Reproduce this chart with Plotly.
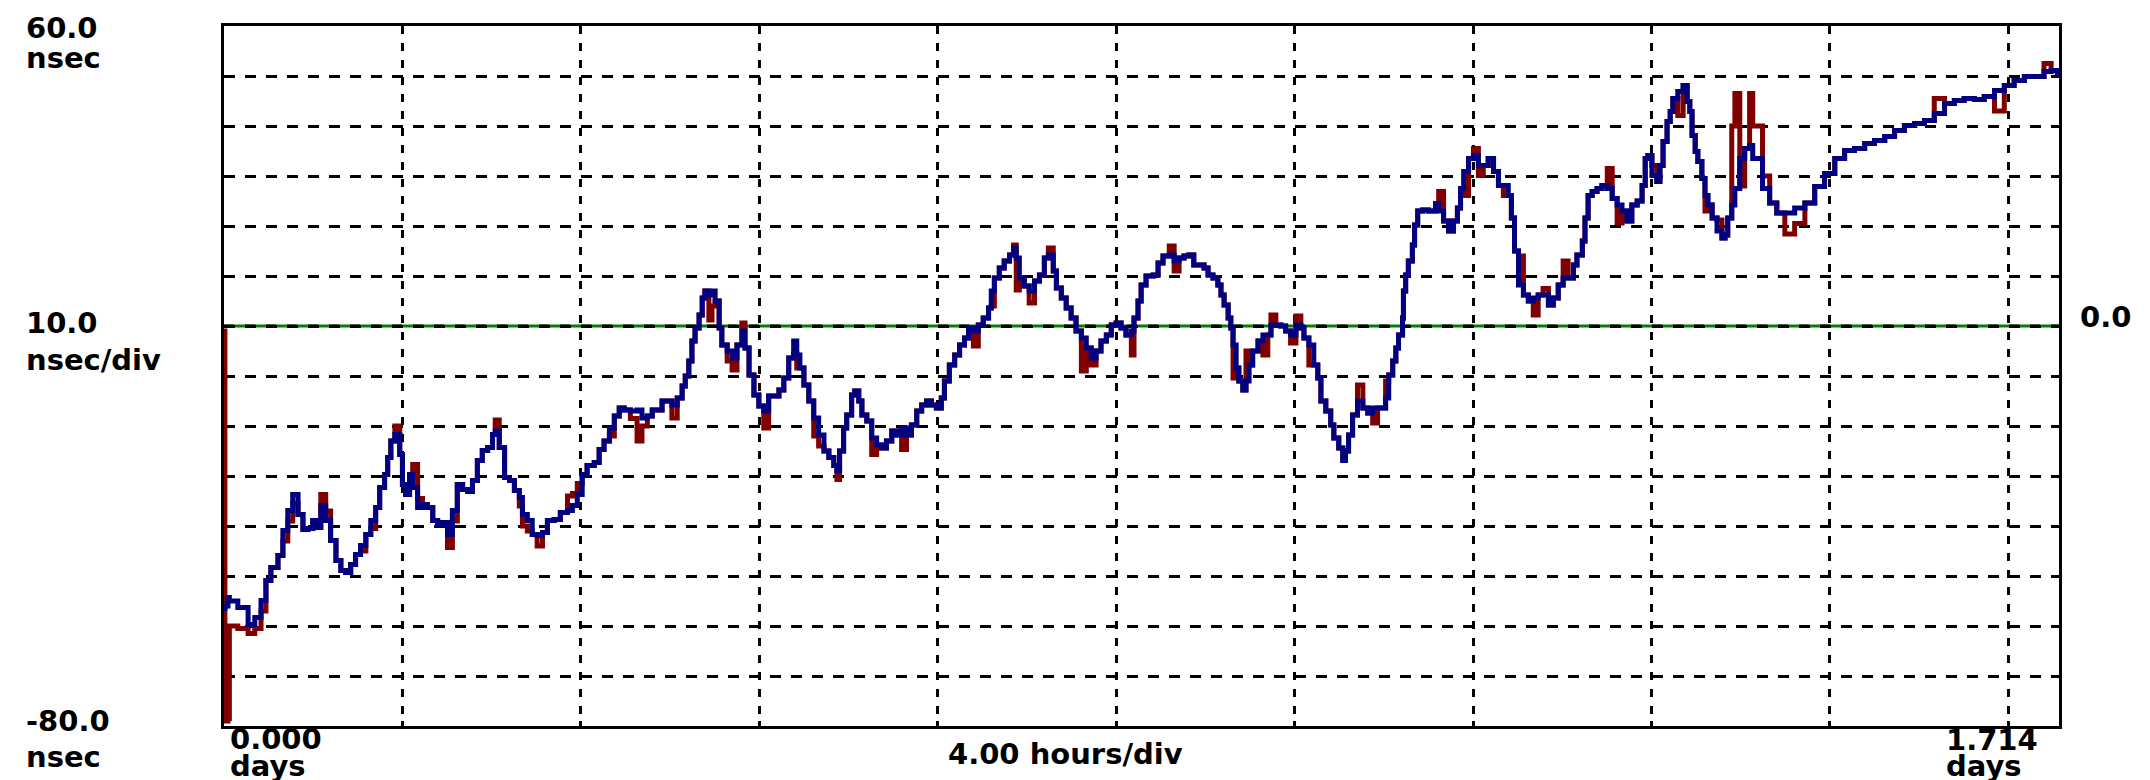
import plotly.graph_objects as go

# ---------------- data (hours since start, nsec) ----------------
hours = [
    0.00, 0.02, 0.09, 0.12, 0.31, 0.54, 0.69, 0.83, 0.94, 1.05,
    1.21, 1.32, 1.43, 1.54, 1.66, 1.77, 1.88, 1.99, 2.10, 2.17,
    2.28, 2.39, 2.51, 2.62, 2.73, 2.84, 2.95, 3.06, 3.18, 3.29,
    3.40, 3.49, 3.60, 3.67, 3.74, 3.83, 3.94, 4.00, 4.07, 4.16,
    4.23, 4.34, 4.45, 4.56, 4.68, 4.79, 4.90, 5.01, 5.12, 5.23,
    5.35, 5.46, 5.57, 5.68, 5.79, 5.91, 6.02, 6.08, 6.17, 6.29,
    6.40, 6.51, 6.62, 6.69, 6.80, 6.91, 7.02, 7.14, 7.25, 7.40,
    7.54, 7.70, 7.81, 7.92, 8.03, 8.14, 8.30, 8.41, 8.52, 8.64,
    8.75, 8.86, 8.97, 9.11, 9.26, 9.37, 9.49, 9.60, 9.71, 9.82,
    9.93, 10.04, 10.16, 10.27, 10.34, 10.42, 10.49, 10.56, 10.65, 10.72,
    10.78, 10.87, 10.94, 11.01, 11.10, 11.16, 11.28, 11.39, 11.50, 11.61,
    11.68, 11.77, 11.88, 11.99, 12.10, 12.21, 12.33, 12.44, 12.55, 12.66,
    12.77, 12.84, 12.91, 13.00, 13.11, 13.22, 13.33, 13.45, 13.56, 13.67,
    13.74, 13.80, 13.89, 13.96, 14.07, 14.14, 14.23, 14.30, 14.41, 14.52,
    14.63, 14.74, 14.85, 14.97, 15.08, 15.19, 15.30, 15.41, 15.53, 15.64,
    15.75, 15.86, 15.97, 16.08, 16.15, 16.26, 16.38, 16.49, 16.60, 16.69,
    16.80, 16.91, 17.02, 17.14, 17.20, 17.27, 17.38, 17.49, 17.61, 17.70,
    17.76, 17.83, 17.94, 18.05, 18.17, 18.28, 18.39, 18.48, 18.59, 18.66,
    18.77, 18.88, 18.99, 19.10, 19.22, 19.33, 19.44, 19.55, 19.66, 19.78,
    19.89, 20.00, 20.11, 20.22, 20.34, 20.40, 20.49, 20.56, 20.67, 20.83,
    20.94, 21.05, 21.19, 21.30, 21.41, 21.52, 21.63, 21.74, 21.86, 21.97,
    22.06, 22.17, 22.28, 22.35, 22.42, 22.51, 22.57, 22.62, 22.69, 22.75,
    22.84, 22.91, 22.98, 23.06, 23.18, 23.29, 23.40, 23.47, 23.58, 23.69,
    23.80, 23.91, 24.03, 24.14, 24.21, 24.32, 24.43, 24.52, 24.59, 24.70,
    24.81, 24.88, 24.99, 25.08, 25.14, 25.21, 25.30, 25.41, 25.53, 25.64,
    25.75, 25.86, 25.97, 26.04, 26.11, 26.20, 26.27, 26.33, 26.42, 26.44,
    26.49, 26.55, 26.64, 26.69, 26.76, 26.87, 27.00, 27.16, 27.23, 27.34,
    27.45, 27.56, 27.65, 27.72, 27.79, 27.90, 28.01, 28.12, 28.23, 28.34,
    28.46, 28.57, 28.68, 28.79, 28.86, 28.93, 29.02, 29.13, 29.24, 29.35,
    29.46, 29.57, 29.69, 29.80, 29.91, 30.02, 30.13, 30.25, 30.33, 30.45,
    30.51, 30.58, 30.67, 30.78, 30.89, 31.01, 31.12, 31.23, 31.34, 31.45,
    31.56, 31.68, 31.79, 31.86, 31.92, 32.01, 32.12, 32.19, 32.26, 32.35,
    32.42, 32.48, 32.59, 32.71, 32.80, 32.86, 32.91, 32.98, 33.04, 33.13,
    33.20, 33.27, 33.36, 33.47, 33.58, 33.65, 33.71, 33.80, 33.87, 33.98,
    34.09, 34.20, 34.27, 34.49, 34.65, 34.81, 34.99, 35.21, 35.44, 35.66,
    35.88, 36.11, 36.33, 36.55, 36.78, 37.00, 37.23, 37.45, 37.67, 37.90,
    38.12, 38.34, 38.57, 38.79, 39.01, 39.24, 39.46, 39.69, 39.91, 40.13,
    40.36, 40.58, 40.80, 40.96, 41.10,
]

blue_nsec = [
    -56.5, -56.0, -54.3, -55.0, -56.3, -59.7, -58.3, -54.9, -50.9, -48.3,
    -45.9, -40.9, -36.9, -33.7, -37.7, -40.7, -40.5, -38.9, -40.3, -35.9,
    -38.9, -42.9, -46.9, -48.9, -49.3, -47.7, -45.7, -43.9, -41.7, -38.9,
    -36.3, -32.3, -29.7, -26.3, -23.0, -21.7, -25.7, -31.7, -33.7, -29.7,
    -32.3, -36.3, -35.7, -36.3, -38.9, -39.7, -39.3, -41.7, -36.9, -31.7,
    -32.7, -33.1, -30.9, -26.9, -24.9, -24.3, -21.7, -21.0, -24.3, -30.3,
    -30.9, -32.9, -34.3, -37.7, -38.9, -41.7, -41.9, -41.3, -38.9, -38.7,
    -37.3, -36.9, -35.9, -33.7, -29.7, -27.9, -27.3, -24.7, -23.0, -20.4,
    -18.0, -16.4, -16.8, -17.0, -16.8, -18.4, -18.0, -16.8, -16.8, -15.0,
    -15.0, -15.8, -14.4, -12.0, -10.0, -7.0, -3.0, -0.4, 2.2, 5.6,
    7.0, 6.2, 7.0, 5.0, -0.4, -3.8, -5.0, -6.4, -3.8, -1.0,
    -4.4, -9.8, -13.8, -16.0, -17.0, -14.0, -14.0, -12.8, -10.4, -6.4,
    -3.0, -5.8, -8.4, -11.8, -15.0, -18.4, -21.8, -25.0, -26.3, -27.9,
    -28.9, -25.0, -20.4, -17.8, -13.8, -13.0, -15.0, -17.8, -19.0, -22.4,
    -23.8, -24.4, -23.0, -21.0, -21.8, -20.4, -21.8, -19.8, -17.0, -15.8,
    -15.0, -15.8, -16.4, -14.4, -11.0, -7.8, -5.8, -3.8, -2.4, -0.4,
    -1.0, 0.2, 1.6, 3.6, 7.0, 9.6, 11.6, 13.0, 14.2, 15.6,
    13.6, 9.6, 8.0, 7.0, 9.0, 10.2, 13.6, 14.2, 11.0, 7.6,
    5.6, 3.6, 1.6, -1.0, -2.4, -4.4, -6.4, -5.0, -3.0, -1.8,
    0.2, 0.6, -0.4, -1.8, -1.0, 1.6, 5.0, 8.2, 10.0, 10.2,
    12.6, 14.0, 14.2, 13.0, 13.6, 14.0, 14.2, 12.2, 12.2, 11.6,
    10.2, 9.6, 8.2, 6.2, 4.2, 1.6, -0.4, -3.8, -8.4, -11.0,
    -12.8, -11.0, -7.8, -5.0, -3.0, -1.8, -1.8, 0.2, 0.2, 0.0,
    -1.0, -1.8, 0.2, -0.4, -2.4, -3.8, -7.8, -10.4, -15.0, -17.0,
    -19.8, -22.4, -24.4, -26.9, -25.0, -21.8, -17.8, -15.0, -16.4, -17.4,
    -16.4, -16.4, -16.4, -14.4, -9.8, -7.0, -4.4, -1.8, 1.6, 7.0,
    10.2, 13.0, 16.2, 20.2, 23.0, 23.2, 23.0, 24.5, 23.0, 21.0,
    19.0, 21.0, 23.6, 27.5, 30.9, 33.5, 34.1, 32.1, 32.1, 33.5,
    30.9, 28.1, 28.1, 26.1, 21.6, 15.0, 8.2, 6.2, 5.0, 5.6,
    6.2, 6.2, 4.2, 5.6, 8.2, 9.6, 9.6, 12.2, 14.2, 17.0,
    21.6, 26.1, 26.9, 27.5, 28.1, 27.5, 25.5, 24.2, 23.0, 21.0,
    24.2, 25.0, 28.1, 33.5, 34.1, 30.1, 28.9, 32.1, 36.9, 40.9,
    42.9, 45.5, 46.9, 48.1, 44.9, 42.9, 38.1, 34.9, 32.9, 29.5,
    26.1, 24.2, 21.6, 19.0, 17.6, 18.2, 21.6, 24.2, 27.5, 33.5,
    35.5, 36.1, 33.5, 27.5, 24.6, 22.6, 22.6, 23.6, 24.6, 27.9,
    30.5, 33.5, 35.1, 35.5, 36.5, 37.1, 37.9, 39.1, 40.1, 40.5,
    41.1, 42.5, 44.5, 45.1, 45.5, 45.3, 45.9, 47.1, 48.1, 49.1,
    49.9, 49.9, 50.9, 51.1, 49.9,
]

red_nsec = [
    -1.0, -79.0, -78.5, -60.0, -60.5, -61.5, -60.5, -57.0, -50.9, -48.3,
    -45.9, -43.0, -39.0, -35.5, -37.7, -40.7, -40.5, -38.9, -40.3, -33.7,
    -37.0, -42.9, -46.9, -48.9, -49.3, -47.7, -45.7, -45.0, -41.7, -40.5,
    -36.3, -32.3, -29.7, -26.3, -23.0, -20.0, -25.7, -31.7, -33.7, -29.7,
    -27.7, -34.5, -35.7, -36.3, -38.9, -39.7, -39.3, -44.3, -39.0, -31.7,
    -32.7, -33.1, -30.9, -26.9, -24.9, -24.3, -21.7, -18.8, -24.3, -30.3,
    -30.9, -32.9, -36.0, -40.0, -41.0, -41.7, -44.0, -41.3, -38.9, -38.7,
    -37.3, -34.0, -33.5, -31.5, -29.7, -27.9, -27.3, -24.7, -23.0, -22.0,
    -18.0, -16.4, -16.8, -18.5, -23.0, -20.0, -18.0, -16.8, -16.8, -15.0,
    -15.0, -18.4, -14.4, -12.0, -10.0, -7.0, -3.0, -0.4, 2.2, 5.6,
    7.0, 1.2, 4.0, 5.0, -0.4, -3.8, -7.0, -8.8, -3.8, 0.6,
    -4.4, -9.8, -13.8, -16.0, -20.4, -14.0, -14.0, -12.8, -10.4, -6.4,
    -5.5, -8.4, -8.4, -11.8, -15.0, -22.0, -24.0, -25.0, -26.3, -27.9,
    -30.7, -25.0, -20.4, -17.8, -13.8, -13.0, -15.0, -17.8, -19.0, -25.7,
    -23.8, -24.4, -23.0, -21.0, -21.8, -24.7, -21.8, -19.8, -17.0, -15.8,
    -15.0, -15.8, -16.4, -14.4, -11.0, -7.8, -5.8, -3.8, -2.4, -0.4,
    -4.0, 0.2, 1.6, 3.6, 4.0, 9.6, 11.6, 13.0, 14.2, 16.2,
    7.2, 9.6, 8.0, 4.6, 9.0, 10.2, 13.6, 15.6, 11.0, 7.6,
    5.6, 3.6, 1.6, -1.0, -9.0, -4.4, -7.8, -5.0, -3.0, -1.8,
    0.2, 0.6, -0.4, -1.8, -5.8, 1.6, 5.0, 8.2, 10.0, 10.2,
    12.6, 14.0, 16.0, 11.0, 13.6, 14.0, 14.2, 12.2, 12.2, 11.6,
    10.2, 9.6, 8.2, 6.2, 4.2, 1.6, -0.4, -10.4, -8.4, -11.0,
    -12.8, -5.0, -7.8, -5.0, -3.0, -5.8, -1.8, 2.2, 0.2, 0.0,
    -1.0, -3.4, 2.0, -0.4, -2.4, -7.8, -7.8, -10.4, -15.0, -17.0,
    -19.8, -22.4, -24.4, -26.9, -25.0, -21.8, -17.8, -11.8, -16.4, -17.4,
    -19.4, -16.4, -16.4, -11.0, -9.8, -7.0, -4.4, -1.8, 1.6, 7.0,
    10.2, 13.0, 16.2, 20.2, 23.0, 23.2, 23.0, 24.5, 26.9, 21.0,
    19.0, 21.0, 23.6, 27.5, 26.1, 33.5, 35.5, 30.1, 32.1, 33.5,
    30.9, 28.1, 26.1, 26.1, 21.6, 15.0, 14.0, 6.2, 5.0, 2.2,
    6.2, 7.5, 4.2, 5.6, 8.2, 13.0, 9.6, 12.2, 14.2, 17.0,
    21.6, 26.1, 26.9, 27.5, 28.1, 31.5, 25.5, 20.6, 23.0, 21.0,
    24.2, 25.0, 28.1, 33.5, 34.1, 32.1, 28.9, 32.1, 36.9, 40.9,
    42.9, 45.5, 42.1, 48.1, 44.9, 42.9, 38.1, 34.9, 32.9, 29.5,
    23.0, 24.2, 21.6, 21.2, 17.6, 18.2, 21.6, 40.0, 46.5, 28.0,
    35.5, 46.5, 40.0, 30.0, 24.6, 22.6, 18.4, 20.5, 24.6, 27.9,
    30.5, 33.5, 35.1, 35.5, 36.5, 37.1, 37.9, 39.1, 40.1, 40.5,
    41.1, 45.5, 44.5, 45.1, 45.5, 45.3, 45.9, 43.0, 48.1, 49.1,
    49.9, 49.9, 52.5, 51.1, 49.9,
]

assert len(hours) == len(blue_nsec) == len(red_nsec)

x_range_hours = [0.0, 41.136]          # 0.000 .. 1.714 days
y_range_nsec = [-80.0, 60.0]
x_grid_hours = [4, 8, 12, 16, 20, 24, 28, 32, 36, 40]
y_grid_nsec = [-70, -60, -50, -40, -30, -20, -10, 0, 10, 20, 30, 40, 50]
reference_level = 0.0

y_top_label = ["60.0", "nsec"]
y_mid_label = ["10.0", "nsec/div"]
y_bot_label = ["-80.0", "nsec"]
x_left_label = ["0.000", "days"]
x_mid_label = "4.00 hours/div"
x_right_label = ["1.714", "days"]
right_label = "0.0"

RED = "#800000"
BLUE = "#000080"
GREEN = "#008000"

# ---------------- figure ----------------
W, H = 2150, 780
X0, X1, Y0, Y1 = 216, 2051, 18, 718

fig = go.Figure()
fig.add_trace(go.Scatter(x=hours, y=red_nsec, mode="lines",
                         line=dict(color=RED, width=5, shape="hv"), hoverinfo="skip",
                         showlegend=False))
fig.add_trace(go.Scatter(x=hours, y=blue_nsec, mode="lines",
                         line=dict(color=BLUE, width=5, shape="hv"), hoverinfo="skip",
                         showlegend=False))

# reference line: solid green with black dashes on top
fig.add_shape(type="line", xref="x", yref="y", x0=x_range_hours[0], x1=x_range_hours[1],
              y0=reference_level, y1=reference_level, layer="below",
              line=dict(color=GREEN, width=3))
fig.add_shape(type="line", xref="x", yref="y", x0=x_range_hours[0], x1=x_range_hours[1],
              y0=reference_level, y1=reference_level, layer="below",
              line=dict(color="black", width=3, dash="10px,11px"))

def px(x):
    return (x - X0) / (X1 - X0)

def py(y):
    return (Y1 - y) / (Y1 - Y0)

FONT = dict(family="DejaVu Sans", size=29, color="black")

def label(text, x, y):
    fig.add_annotation(text="<b>%s</b>" % text, xref="paper", yref="paper",
                       x=px(x), y=py(y), xanchor="left", yanchor="middle",
                       showarrow=False, font=FONT)

label(y_top_label[0], 16, 20)
label(y_top_label[1], 16, 50)
label(y_mid_label[0], 16, 315)
label(y_mid_label[1], 16, 352)
label(y_bot_label[0], 16, 713)
label(y_bot_label[1], 16, 749)
label(x_left_label[0], 220, 731)
label(x_left_label[1], 220, 758)
label(x_mid_label, 938, 746)
label(x_right_label[0], 1936, 732)
label(x_right_label[1], 1936, 758)
label(right_label, 2070, 309)

fig.update_layout(
    width=W, height=H,
    margin=dict(l=X0, r=W - X1, t=Y0, b=H - Y1, pad=0),
    paper_bgcolor="white", plot_bgcolor="white",
    showlegend=False,
    xaxis=dict(range=x_range_hours, tickvals=x_grid_hours, showticklabels=False,
               showgrid=True, gridcolor="black", gridwidth=3, griddash="8px,9px",
               zeroline=False, showline=True, linecolor="black", linewidth=3,
               mirror=True, ticks="inside", ticklen=5, tickwidth=3, tickcolor="black",
               fixedrange=True),
    yaxis=dict(range=y_range_nsec, tickvals=y_grid_nsec, showticklabels=False,
               showgrid=True, gridcolor="black", gridwidth=3, griddash="11px,10px",
               zeroline=False, showline=True, linecolor="black", linewidth=3,
               mirror=True, ticks="", fixedrange=True),
)

fig.write_html("out.html", config={"displayModeBar": False})
